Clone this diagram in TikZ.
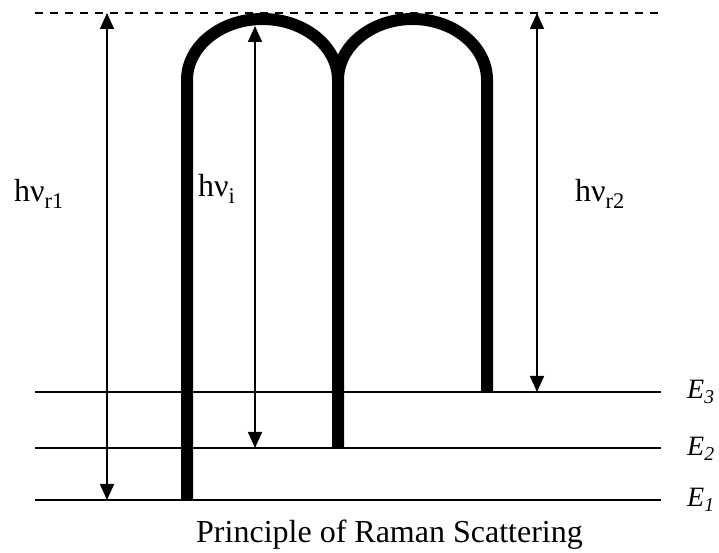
\documentclass[tikz,border=0pt]{standalone}
\usepackage{fontspec}
\setmainfont{Liberation Serif}
\usetikzlibrary{arrows.meta}
\begin{document}
\begin{tikzpicture}[x=1pt,y=1pt,
  level/.style={line width=2pt},
  thickline/.style={line width=12pt},
  photon/.style={line width=1.5pt,{Triangle[length=16pt,width=14pt]}-{Triangle[length=16pt,width=14pt]}},
  lbl/.style={anchor=base west,inner sep=0pt,font=\fontsize{32}{36}\selectfont},
  elbl/.style={anchor=base west,inner sep=0pt,font=\fontsize{28}{32}\selectfont\itshape}]
\useasboundingbox (0,0) rectangle (719,553);
% virtual level
\coordinate (vL) at (35,540);
\coordinate (vR) at (658,540);
\draw[line width=1.5pt,dash pattern=on 8pt off 7pt] (vL) -- (vR);
% energy levels
\coordinate (e3L) at (35,161); \coordinate (e3R) at (661,161);
\coordinate (e2L) at (35,105); \coordinate (e2R) at (661,105);
\coordinate (e1L) at (35,53);  \coordinate (e1R) at (661,53);
\draw[level] (e3L) -- (e3R);
\draw[level] (e2L) -- (e2R);
\draw[level] (e1L) -- (e1R);
% thick transition paths
\coordinate (b1) at (187,53);
\coordinate (b2) at (338,105);
\coordinate (b3) at (487,161);
\draw[thickline] (b1) -- (187,473) arc[start angle=180,end angle=0,x radius=75.5,y radius=61] -- (b2);
\draw[thickline] (338,473) arc[start angle=180,end angle=0,x radius=74.5,y radius=61] -- (b3);
% arrows
\coordinate (r1t) at (107,540); \coordinate (r1b) at (107,53);
\coordinate (it) at (255,527);  \coordinate (ib) at (255,105);
\coordinate (r2t) at (537,540); \coordinate (r2b) at (537,161);
\draw[photon] (r1t) -- (r1b);
\draw[photon] (it) -- (ib);
\draw[photon] (r2t) -- (r2b);
% labels
\node[lbl] (lr1) at (14,351) {hν\textsubscript{r1}};
\node[lbl] (li) at (198,356) {hν\textsubscript{i}};
\node[lbl] (lr2) at (575,351) {hν\textsubscript{r2}};
\node[elbl] (E3) at (687,154) {E\textsubscript{3}};
\node[elbl] (E2) at (687,97) {E\textsubscript{2}};
\node[elbl] (E1) at (687,46) {E\textsubscript{1}};
\node[lbl] (cap) at (196,10) {Principle of Raman Scattering};
\end{tikzpicture}
\end{document}
